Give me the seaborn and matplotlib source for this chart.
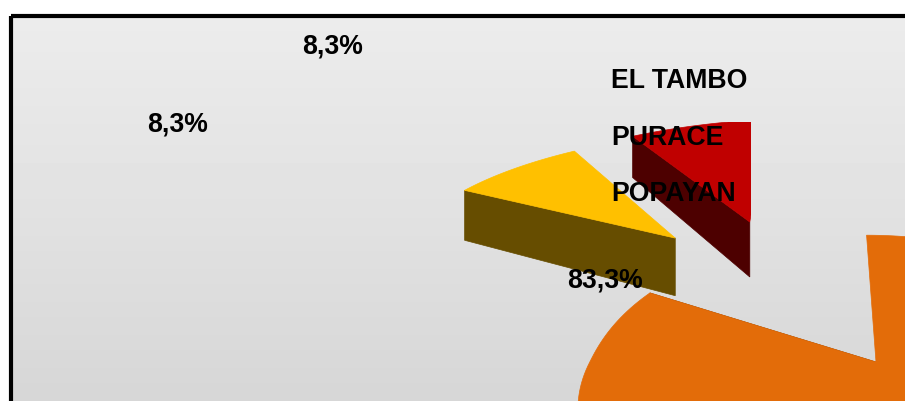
import numpy as np
import matplotlib
matplotlib.use("Agg")
import matplotlib.pyplot as plt
from matplotlib.patches import Polygon, Rectangle
import seaborn as sns

# ---- data ----
categories = ["EL TAMBO", "PURACE", "POPAYAN"]
shares = [8.3, 8.3, 83.3]
share_labels = ["8,3%", "8,3%", "83,3%"]

# ---- style ----
top_colors = ["#C00000", "#FFC000", "#E36C09"]
wall_colors = ["#4D0000", "#664D00", "#7A3B05"]
slice_offset = [(0.181, 0.407), (0.286, 0.344), (0.0, 0.0)]
slice_rotation = [2.0, 3.0, 0.0]
label_pos = [(333, 47), (178, 125), (605, 281)]
legend_pos = [(611, 81), (611, 138), (611, 194)]


def slice_radius(i, phi):
    if i == 0:
        return 0.60 - 0.05 * (phi - phi.min()) / (phi.max() - phi.min())
    if i == 1:
        return 0.51 - 0.06 * (phi - phi.min()) / (phi.max() - phi.min())
    return 0.318 + 0.037 * np.clip(np.cos(phi), 0, None) ** 1.5


sns.set_style("white")
plt.rcParams["font.family"] = ["Liberation Sans", "DejaVu Sans"]

W, H = 905, 401
fig = plt.figure(figsize=(W / 100, H / 100), dpi=100)
ax = fig.add_axes([0, 0, 1, 1])
ax.axis("off")

# panel: soft vertical gradient with a thick black frame
grad = np.interp(np.linspace(0, 1, 128), [0, 0.5, 1.0], [0.925, 0.885, 0.84]).reshape(-1, 1)
ax.imshow(grad, cmap="gray", vmin=0, vmax=1, extent=(11, W + 10, H, 16), aspect="auto", zorder=0)
ax.set_xlim(0, W)
ax.set_ylim(H, 0)
ax.add_patch(Rectangle((11, 16), W + 10, H, fill=False, ec="black", lw=3.0, zorder=1))

# tilted pie plane -> pixels
HORIZON, VX, FOCAL, CX0, SCALE = -122.0, 840.0, 900.0, 0.04, 484.0


def project(X, Z):
    dist = 1.0 + np.asarray(Z)
    return VX + FOCAL * (CX0 - np.asarray(X)) / dist, HORIZON + SCALE / dist


def wall_height(y):
    return 55 + 0.16 * (y - 222)


total = sum(shares)
start = 0.0
for i, share in enumerate(shares):
    sweep = 360.0 * share / total
    phi = np.radians(np.linspace(start, start + sweep, 200) + slice_rotation[i])
    start += sweep
    ox, oz = slice_offset[i]
    r = slice_radius(i, phi)
    X = np.r_[ox, ox + r * np.sin(phi)]
    Z = np.r_[oz, oz + r * np.cos(phi)]
    px, py = project(X, Z)
    pts = np.c_[px, py]

    clip = Rectangle((600, 122), 151, 170, transform=ax.transData) if i == 0 else None

    # the visible straight wall of the slice is extruded downward
    edge_end = pts[-1] if i < 2 else pts[1]
    edge = np.array([pts[0], edge_end])
    low = edge + np.c_[np.zeros(2), wall_height(edge[:, 1])]
    wall = Polygon(np.r_[edge, low[::-1]], closed=True, fc=wall_colors[i],
                   ec=wall_colors[i], lw=0.5, zorder=3)
    top = Polygon(pts, closed=True, fc=top_colors[i], ec=top_colors[i], lw=0.5, zorder=4)
    ax.add_patch(wall)
    ax.add_patch(top)
    if clip is not None:
        wall.set_clip_path(clip)
        top.set_clip_path(clip)

txt = dict(fontsize=19.2, fontweight="bold", color="black", zorder=6, va="center")
for s, (x, y) in zip(share_labels, label_pos):
    ax.text(x, y, s, ha="center", **txt)
for c, (x, y) in zip(categories, legend_pos):
    ax.text(x, y, c, ha="left", **txt)

fig.savefig("out.png", dpi=100)
